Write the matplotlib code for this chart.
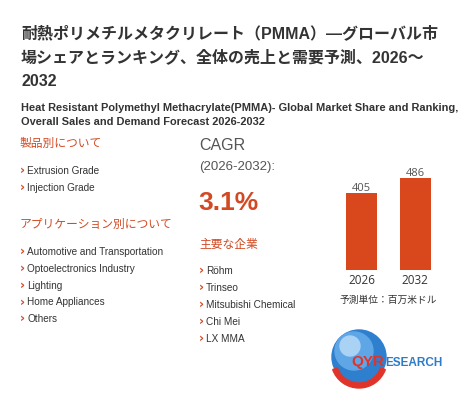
import numpy as np
import matplotlib
matplotlib.use("Agg")
import matplotlib.pyplot as plt
from matplotlib.patches import Circle, Wedge

plt.rcParams['font.family'] = ['Liberation Sans', 'Noto Sans CJK JP', 'DejaVu Sans']

# data
title_jp = ["耐熱ポリメチルメタクリレート（PMMA）—グローバル市",
            "場シェアとランキング、全体の売上と需要予測、2026～",
            "2032"]
subtitle = ["Heat Resistant Polymethyl Methacrylate(PMMA)- Global Market Share and Ranking,",
            "Overall Sales and Demand Forecast 2026-2032"]
types = ["Extrusion Grade", "Injection Grade"]
applications = ["Automotive and Transportation", "Optoelectronics Industry",
                "Lighting", "Home Appliances", "Others"]
companies = ["Röhm", "Trinseo", "Mitsubishi Chemical", "Chi Mei", "LX MMA"]
cagr = "3.1%"
years = ["2026", "2032"]
sales = [405, 486]

RED = "#d24a24"
BAR = "#d9481c"
DARK = "#333333"
GRAY = "#555555"

W, H = 472, 400
fig = plt.figure(figsize=(W / 100, H / 100), dpi=100)
fig.patch.set_facecolor("white")


def put(x, y, s, **kw):
    # place text using pixel coords measured from top-left
    return fig.text(x / W, 1 - y / H, s, va="center", **kw)


def bullet(x, y):
    put(x, y, "›", fontsize=9, fontweight="bold", color=RED, family="DejaVu Sans")


# title
for i, line in enumerate(title_jp):
    put(21, 33 + i * 24.5, line, fontsize=11.5, fontweight="bold", color=DARK)
for i, line in enumerate(subtitle):
    put(21, 108 + i * 14, line, fontsize=7.95, fontweight="bold", color=DARK)

# left column
put(20, 144, "製品別について", fontsize=8.5, color=RED)
for i, t in enumerate(types):
    bullet(20, 170.5 + i * 17)
    put(27, 171 + i * 17, t, fontsize=7.2, color=DARK)

put(20, 225, "アプリケーション別について", fontsize=8.5, color=RED)
for i, t in enumerate(applications):
    bullet(20, 251.5 + i * 16.8)
    put(27, 252 + i * 16.8, t, fontsize=7.2, color=DARK)

# middle column
put(199, 145, "CAGR", fontsize=11.5, color=GRAY)
put(199, 167, "(2026-2032):", fontsize=9.5, color=GRAY)
put(198, 203, cagr, fontsize=19, fontweight="bold", color=RED)
put(199, 245, "主要な企業", fontsize=8.5, color=RED)
for i, c in enumerate(companies):
    bullet(199, 270.5 + i * 17)
    put(206, 271 + i * 17, c, fontsize=7.2, color=DARK)

# bar chart
ax = fig.add_axes([330 / W, 1 - 270 / H, 116 / W, 120 / H])
x = np.arange(len(years))
bars = ax.bar(x, sales, width=0.58, color=BAR)
ax.set_xlim(-0.589, 1.579)
ax.set_ylim(0, 631)
for b, v in zip(bars, sales):
    ax.text(b.get_x() + b.get_width() / 2, v + 24, str(v), ha="center", va="center",
            fontsize=8, color=GRAY, family="Open Sans")
ax.set_xticks(x)
ax.set_xticklabels(years, fontsize=8.5, color=DARK, family="Open Sans")
ax.tick_params(length=0, pad=3)
ax.set_yticks([])
for s in ax.spines.values():
    s.set_visible(False)
ax.patch.set_alpha(0)
put(388, 300, "予測単位：百万米ドル", fontsize=7, color=DARK, ha="center",
    family=["Noto Sans CJK JP", "DejaVu Sans"])

# logo
lx = fig.add_axes([0, 0, 1, 1])
lx.set_xlim(0, W)
lx.set_ylim(H, 0)
lx.axis("off")
lx.patch.set_alpha(0)
lx.add_patch(Circle((359, 357), 27, color="#2f7fcf", zorder=1))
lx.add_patch(Circle((354, 351), 19, color="#5fa6e6", zorder=2))
lx.add_patch(Circle((350, 346), 10, color="#a9d2f5", zorder=3))
lx.add_patch(Wedge((359, 360), 28, 20, 160, width=5, color="#e0342a", zorder=4))
q = lx.text(351, 362, "QYR", fontsize=11, fontweight="bold", color="#e0342a",
            va="center", ha="left", zorder=5)
fig.canvas.draw()
qx1 = q.get_window_extent().x1
lx.text(qx1 + 1, 363, "ESEARCH", fontsize=8.5, fontweight="bold", color="#2b7cc9",
        va="center", ha="left", zorder=5)

fig.savefig("out.png", dpi=100, facecolor="white")
